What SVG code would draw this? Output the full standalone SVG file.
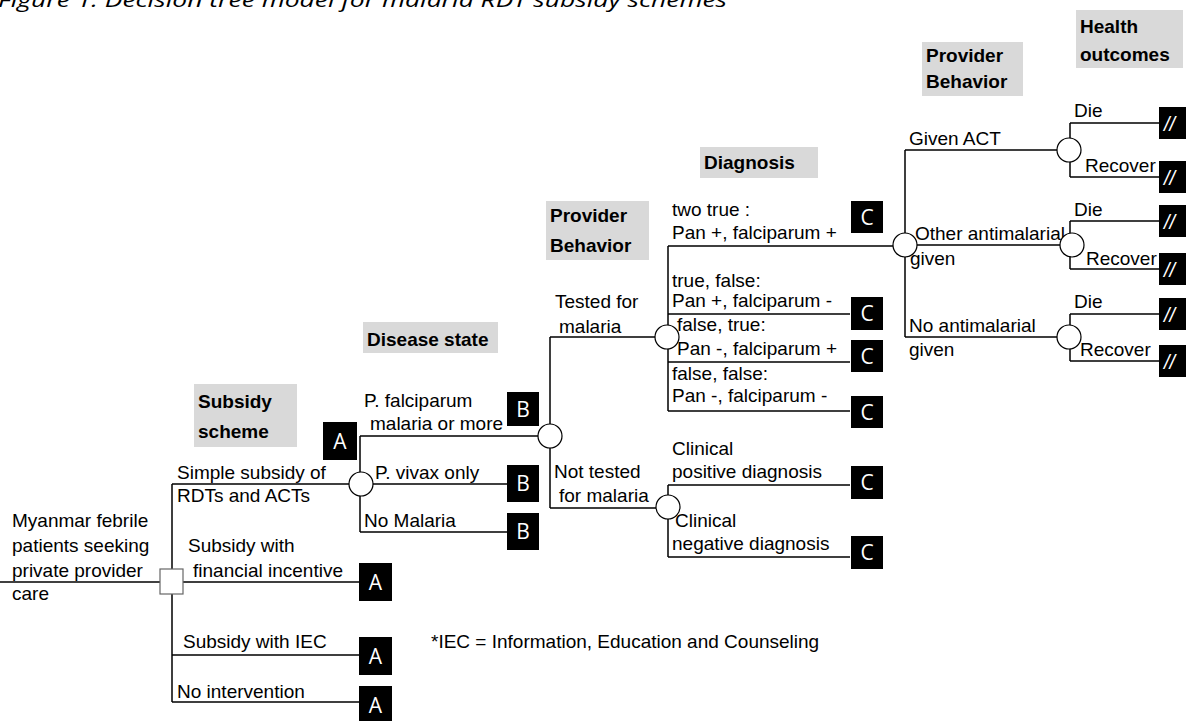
<svg xmlns="http://www.w3.org/2000/svg" width="1186" height="721" viewBox="0 0 1186 721">
<style>
.ln{stroke:#000;stroke-width:1.5;fill:none}
.ch{fill:#fff;stroke:#000;stroke-width:1.2}
.dn{fill:#fff;stroke:#666;stroke-width:1.2}
.t{font-family:"Liberation Sans",Arial,sans-serif;font-size:19px;fill:#000}
.h{font-family:"Liberation Sans",Arial,sans-serif;font-size:19px;font-weight:bold;fill:#000}
.hb{fill:#d9d9d9}
.bx{fill:#000}
.bt{font-family:"Open Sans",sans-serif;font-size:21px;fill:#fff;text-anchor:middle}
.sl{font-family:"Liberation Sans",Arial,sans-serif;font-size:20px;font-style:italic;fill:#fff}
.ti{font-family:"Open Sans",sans-serif;font-size:20px;font-style:italic;fill:#000}
</style>
<rect width="1186" height="721" fill="#fff"/>
<text class="ti" x="-2" y="7" textLength="729" lengthAdjust="spacingAndGlyphs">Figure 1: Decision tree model for malaria RDT subsidy schemes</text>

<g id="headings">
<rect class="hb" x="194" y="384" width="103" height="63"/>
<text class="h" x="198" y="408">Subsidy</text>
<text class="h" x="198" y="438">scheme</text>
<rect class="hb" x="363" y="322" width="135" height="31"/>
<text class="h" x="367" y="346">Disease state</text>
<rect class="hb" x="546" y="201" width="103" height="59"/>
<text class="h" x="550" y="222">Provider</text>
<text class="h" x="550" y="252">Behavior</text>
<rect class="hb" x="700" y="147" width="118" height="31"/>
<text class="h" x="704" y="169">Diagnosis</text>
<rect class="hb" x="922" y="42" width="101" height="54"/>
<text class="h" x="926" y="62">Provider</text>
<text class="h" x="926" y="88">Behavior</text>
<rect class="hb" x="1076" y="10" width="107" height="58"/>
<text class="h" x="1080" y="33">Health</text>
<text class="h" x="1080" y="61">outcomes</text>
</g>

<g id="connectors">
<path class="ln" d="M0,582 H160"/>
<path class="ln" d="M172,484 V702 M172,484 H349 M172,582 H359 M172,655 H359 M172,702 H359"/>
<path class="ln" d="M360,436 V532 M360,436 H538 M373,484 H507 M360,532 H507"/>
<path class="ln" d="M550,337 V508 M550,337 H655 M550,508 H656"/>
<path class="ln" d="M668,246 V411 M668,246 H893 M668,314 H850 M668,362 H850 M668,411 H850"/>
<path class="ln" d="M668,485 V557 M668,485 H850 M668,557 H850"/>
<path class="ln" d="M905,150 V337 M905,150 H1057 M917,245 H1060 M905,337 H1057"/>
<path class="ln" d="M1070,123 V177 M1070,123 H1159 M1070,177 H1159"/>
<path class="ln" d="M1070,221 V269 M1070,221 H1159 M1070,269 H1159"/>
<path class="ln" d="M1070,314 V361 M1070,314 H1159 M1070,361 H1159"/>
</g>

<g id="root">
<text class="t" x="12" y="527">Myanmar febrile</text>
<text class="t" x="12" y="552">patients seeking</text>
<text class="t" x="12" y="577">private provider</text>
<text class="t" x="12" y="600">care</text>
<rect class="dn" x="160" y="569" width="23" height="25"/>
</g>

<g id="subsidy-labels">
<text class="t" x="177" y="479">Simple subsidy of</text>
<text class="t" x="177" y="502">RDTs and ACTs</text>
<text class="t" x="188" y="552">Subsidy with</text>
<text class="t" x="193" y="577">financial incentive</text>
<text class="t" x="183" y="648">Subsidy with IEC</text>
<text class="t" x="177" y="698">No intervention</text>
<text class="t" x="431" y="648">*IEC = Information, Education and Counseling</text>
</g>

<g id="node-disease">
<circle class="ch" cx="361" cy="484" r="12"/>
<rect class="bx" x="323" y="422" width="34" height="38"/>
<text class="bt" x="340" y="449">A</text>
<text class="t" x="364" y="407">P. falciparum</text>
<text class="t" x="370" y="430">malaria or more</text>
<text class="t" x="375" y="479">P. vivax only</text>
<text class="t" x="364" y="527">No Malaria</text>
</g>

<g id="node-A-financial"><rect class="bx" x="359" y="563" width="33" height="38"/><text class="bt" x="375.5" y="590">A</text></g>
<g id="node-A-iec"><rect class="bx" x="359" y="637" width="33" height="38"/><text class="bt" x="375.5" y="664">A</text></g>
<g id="node-A-none"><rect class="bx" x="359" y="686" width="33" height="38"/><text class="bt" x="375.5" y="713">A</text></g>

<g id="node-B-vivax"><rect class="bx" x="507" y="465" width="32" height="37"/><text class="bt" x="523" y="491">B</text></g>
<g id="node-B-none"><rect class="bx" x="507" y="513" width="32" height="37"/><text class="bt" x="523" y="539">B</text></g>

<g id="node-provider">
<circle class="ch" cx="550" cy="436" r="12"/>
<rect class="bx" x="507" y="392" width="32" height="34"/>
<text class="bt" x="523" y="417">B</text>
<text class="t" x="555" y="308">Tested for</text>
<text class="t" x="559" y="333">malaria</text>
<text class="t" x="554" y="478">Not tested</text>
<text class="t" x="559" y="502">for malaria</text>
</g>

<g id="node-tested">
<circle class="ch" cx="667" cy="337" r="12"/>
<text class="t" x="672" y="216">two true :</text>
<text class="t" x="672" y="239">Pan +, falciparum +</text>
<text class="t" x="672" y="287">true, false:</text>
<text class="t" x="672" y="307">Pan +, falciparum -</text>
<text class="t" x="677" y="331">false, true:</text>
<text class="t" x="677" y="355">Pan -, falciparum +</text>
<text class="t" x="672" y="380">false, false:</text>
<text class="t" x="672" y="402">Pan -, falciparum -</text>
</g>

<g id="node-not-tested">
<circle class="ch" cx="668" cy="507" r="12"/>
<text class="t" x="672" y="455">Clinical</text>
<text class="t" x="672" y="478">positive diagnosis</text>
<text class="t" x="675" y="527">Clinical</text>
<text class="t" x="672" y="550">negative diagnosis</text>
</g>

<g id="node-C1"><rect class="bx" x="851" y="201" width="32" height="32"/><text class="bt" x="867" y="225">C</text></g>
<g id="node-C2"><rect class="bx" x="851" y="297" width="32" height="33"/><text class="bt" x="867" y="321">C</text></g>
<g id="node-C3"><rect class="bx" x="851" y="340" width="32" height="32"/><text class="bt" x="867" y="364">C</text></g>
<g id="node-C4"><rect class="bx" x="851" y="396" width="32" height="32"/><text class="bt" x="867" y="420">C</text></g>
<g id="node-C5"><rect class="bx" x="851" y="466" width="32" height="33"/><text class="bt" x="867" y="490">C</text></g>
<g id="node-C6"><rect class="bx" x="851" y="536" width="32" height="33"/><text class="bt" x="867" y="560">C</text></g>

<g id="node-treatment">
<circle class="ch" cx="905" cy="245" r="12"/>
<text class="t" x="909" y="145">Given ACT</text>
<text class="t" x="915" y="240">Other antimalarial</text>
<text class="t" x="910" y="265">given</text>
<text class="t" x="909" y="332">No antimalarial</text>
<text class="t" x="909" y="356">given</text>
</g>

<g id="node-outcome-act">
<circle class="ch" cx="1069" cy="150" r="12"/>
<text class="t" x="1074" y="117">Die</text>
<text class="t" x="1085" y="172">Recover</text>
</g>
<g id="node-outcome-other">
<circle class="ch" cx="1072" cy="245" r="12"/>
<text class="t" x="1074" y="216">Die</text>
<text class="t" x="1086" y="265">Recover</text>
</g>
<g id="node-outcome-none">
<circle class="ch" cx="1069" cy="337" r="12"/>
<text class="t" x="1074" y="308">Die</text>
<text class="t" x="1080" y="356">Recover</text>
</g>

<g id="terminals">
<rect class="bx" x="1159" y="107" width="30" height="32"/><text class="sl" x="1164" y="131">//</text>
<rect class="bx" x="1159" y="161" width="30" height="32"/><text class="sl" x="1164" y="185">//</text>
<rect class="bx" x="1159" y="205" width="30" height="32"/><text class="sl" x="1164" y="229">//</text>
<rect class="bx" x="1159" y="253" width="30" height="32"/><text class="sl" x="1164" y="277">//</text>
<rect class="bx" x="1159" y="298" width="30" height="32"/><text class="sl" x="1164" y="322">//</text>
<rect class="bx" x="1159" y="345" width="30" height="32"/><text class="sl" x="1164" y="369">//</text>
</g>
</svg>
